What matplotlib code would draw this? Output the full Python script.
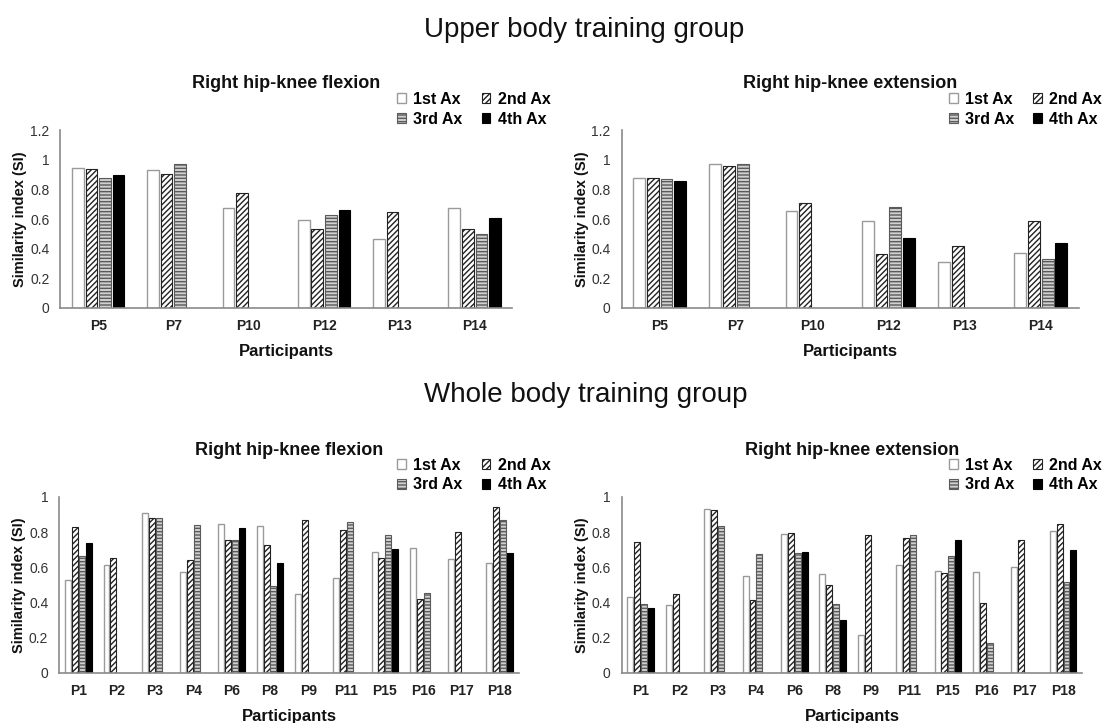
import numpy as np
import matplotlib
matplotlib.use("Agg")
import matplotlib.pyplot as plt

plt.rcParams['font.family'] = ['Liberation Sans', 'DejaVu Sans']
plt.rcParams['hatch.linewidth'] = 1.0

nan = np.nan
series_names = ["1st Ax", "2nd Ax", "3rd Ax", "4th Ax"]

upper_participants = ["P5", "P7", "P10", "P12", "P13", "P14"]
upper_flex_1 = [0.946, 0.930, 0.678, 0.597, 0.468, 0.678]
upper_flex_2 = [0.937, 0.905, 0.777, 0.530, 0.649, 0.530]
upper_flex_3 = [0.876, 0.973, nan, 0.630, nan, 0.502]
upper_flex_4 = [0.896, nan, nan, 0.662, nan, 0.608]

upper_ext_1 = [0.876, 0.973, 0.655, 0.586, 0.313, 0.372]
upper_ext_2 = [0.880, 0.960, 0.707, 0.363, 0.421, 0.588]
upper_ext_3 = [0.867, 0.971, nan, 0.682, nan, 0.329]
upper_ext_4 = [0.854, nan, nan, 0.473, nan, 0.441]

whole_participants = ["P1", "P2", "P3", "P4", "P6", "P8", "P9", "P11", "P15", "P16", "P17", "P18"]
whole_flex_1 = [0.528, 0.611, 0.909, 0.572, 0.849, 0.836, 0.447, 0.542, 0.687, 0.708, 0.645, 0.623]
whole_flex_2 = [0.830, 0.653, 0.883, 0.642, 0.755, 0.725, 0.872, 0.811, 0.653, 0.419, 0.802, 0.943]
whole_flex_3 = [0.664, nan, 0.883, 0.843, 0.755, 0.494, nan, 0.858, 0.783, 0.455, nan, 0.872]
whole_flex_4 = [0.736, nan, nan, nan, 0.825, 0.626, nan, nan, 0.704, nan, nan, 0.683]

whole_ext_1 = [0.432, 0.389, 0.934, 0.551, 0.789, 0.562, 0.216, 0.615, 0.581, 0.573, 0.602, 0.805]
whole_ext_2 = [0.742, 0.447, 0.927, 0.414, 0.797, 0.498, 0.784, 0.767, 0.568, 0.398, 0.756, 0.846]
whole_ext_3 = [0.391, nan, 0.836, 0.675, 0.680, 0.391, nan, 0.784, 0.667, 0.173, nan, 0.515]
whole_ext_4 = [0.370, nan, nan, nan, 0.688, 0.303, nan, nan, 0.758, nan, nan, 0.699]

styles = [
    dict(facecolor="white", edgecolor="#9a9a9a", hatch=None, linewidth=1.0),
    dict(facecolor="white", edgecolor="#222222", hatch="//////", linewidth=0.8),
    dict(facecolor="#d0d0d0", edgecolor="#5a5a5a", hatch="-----", linewidth=0.8),
    dict(facecolor="black", edgecolor="black", hatch=None, linewidth=0.8),
]

fig = plt.figure(figsize=(11.10, 7.23), dpi=100)

def panel(rect, cats, data, title, ymax, yticks, yticklabels, legend_anchor):
    ax = fig.add_axes(rect)
    x = np.arange(len(cats))
    pitch = 0.18
    width = 0.155
    handles = []
    for i, (vals, st) in enumerate(zip(data, styles)):
        vals = np.array(vals, dtype=float)
        mask = ~np.isnan(vals)
        offs = (i - 1.5) * pitch
        b = ax.bar(x[mask] + offs, vals[mask], width=width, **st)
        handles.append(b)
    ax.set_xlim(-0.5, len(cats) - 0.5)
    ax.set_ylim(0, ymax)
    ax.set_yticks(yticks)
    ax.set_yticklabels(yticklabels, fontsize=10, color="#333333")
    ax.set_xticks(x)
    ax.set_xticklabels(cats, fontsize=10, fontweight="bold", color="#222222")
    ax.tick_params(axis="both", length=0, pad=8)
    ax.tick_params(axis="y", pad=8)
    for s in ["top", "right"]:
        ax.spines[s].set_visible(False)
    for s in ["left", "bottom"]:
        ax.spines[s].set_color("#8a8a8a")
        ax.spines[s].set_linewidth(1.2)
    ax.set_title(title, fontsize=13, fontweight="bold", pad=30, color="#111111")
    ax.set_xlabel("Participants", fontsize=12, fontweight="bold", labelpad=8, color="#111111")
    ax.set_ylabel("Similarity index (SI)", fontsize=10.5, fontweight="bold", color="#111111")
    axw_px = rect[2] * 1110
    ax.yaxis.set_label_coords(-33.0 / axw_px, 0.5)
    order = [0, 2, 1, 3]
    fig.legend([handles[k] for k in order], [series_names[k] for k in order],
               loc="upper right", bbox_to_anchor=legend_anchor,
               ncol=2, frameon=False, prop=dict(weight="bold", size=11.5),
               handlelength=0.55, handleheight=0.55, handletextpad=0.45,
               columnspacing=1.2, labelspacing=0.3, borderpad=0.0)
    return ax

panel([0.0545, 0.574, 0.407, 0.246], upper_participants,
      [upper_flex_1, upper_flex_2, upper_flex_3, upper_flex_4],
      "Right hip-knee flexion", 1.2, [0, 0.2, 0.4, 0.6, 0.8, 1.0, 1.2],
      ["0", "0.2", "0.4", "0.6", "0.8", "1", "1.2"], (0.503, 0.884))
panel([0.560, 0.574, 0.412, 0.246], upper_participants,
      [upper_ext_1, upper_ext_2, upper_ext_3, upper_ext_4],
      "Right hip-knee extension", 1.2, [0, 0.2, 0.4, 0.6, 0.8, 1.0, 1.2],
      ["0", "0.2", "0.4", "0.6", "0.8", "1", "1.2"], (1.0, 0.884))
panel([0.0535, 0.0692, 0.414, 0.2434], whole_participants,
      [whole_flex_1, whole_flex_2, whole_flex_3, whole_flex_4],
      "Right hip-knee flexion", 1.0, [0, 0.2, 0.4, 0.6, 0.8, 1.0],
      ["0", "0.2", "0.4", "0.6", "0.8", "1"], (0.503, 0.378))
panel([0.560, 0.0692, 0.415, 0.2434], whole_participants,
      [whole_ext_1, whole_ext_2, whole_ext_3, whole_ext_4],
      "Right hip-knee extension", 1.0, [0, 0.2, 0.4, 0.6, 0.8, 1.0],
      ["0", "0.2", "0.4", "0.6", "0.8", "1"], (1.0, 0.378))

fig.text(0.526, 0.958, "Upper body training group", ha="center", va="center", fontsize=20, color="#111111")
fig.text(0.528, 0.454, "Whole body training group", ha="center", va="center", fontsize=20, color="#111111")

fig.savefig("out.png", dpi=100)
